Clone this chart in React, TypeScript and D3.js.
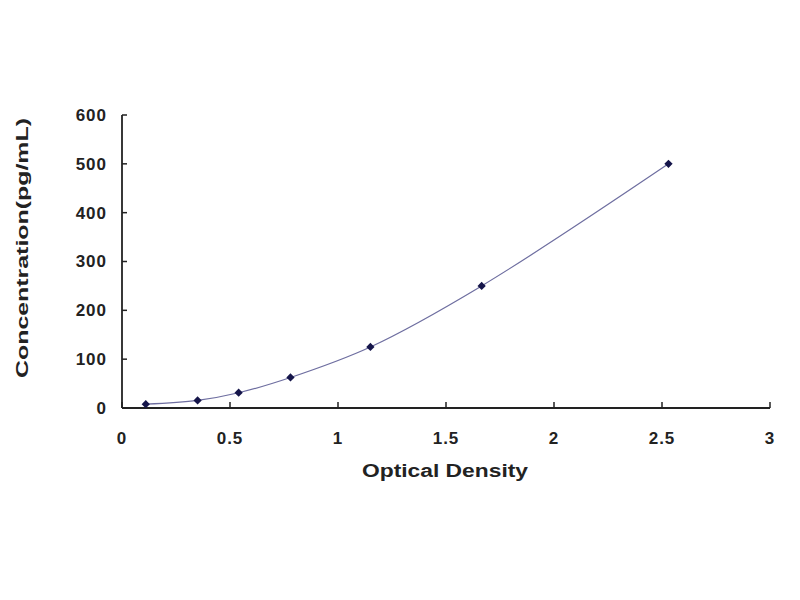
import { useEffect, useRef } from "react";
import * as d3 from "d3";

// standard curve points
const opticalDensity = [0.11, 0.35, 0.54, 0.78, 1.15, 1.665, 2.53];
const concentration = [7.8, 15.6, 31.25, 62.5, 125, 250, 500];
const xTicks = [0, 0.5, 1, 1.5, 2, 2.5, 3];
const yTicks = [0, 100, 200, 300, 400, 500, 600];

export default function App() {
    const svgRef = useRef<SVGSVGElement | null>(null);

    useEffect(() => {
        if (!svgRef.current) return;
        const svg = d3.select<SVGSVGElement, unknown>(svgRef.current);
        svg.selectAll("*").remove();

        const margin = { top: 115, left: 122, right: 30 };
        const plotRight = 770;
        const plotBottom = 408;

        const x = d3.scaleLinear().domain([0, 3]).range([margin.left, plotRight]);
        const y = d3.scaleLinear().domain([0, 600]).range([plotBottom, margin.top]);

        const font = "Arial, 'Liberation Sans', sans-serif";
        const ink = "#222";

        // X axis, ticks pointing inward
        const xAxis = svg.append("g").attr("transform", `translate(0,${plotBottom})`);
        xAxis.append("line")
            .attr("x1", x(0)).attr("x2", x(3))
            .attr("stroke", ink).attr("stroke-width", 1.8);
        xAxis.selectAll("line.tick")
            .data(xTicks)
            .join("line")
            .attr("class", "tick")
            .attr("x1", (d) => x(d)).attr("x2", (d) => x(d))
            .attr("y1", 0).attr("y2", -6)
            .attr("stroke", ink).attr("stroke-width", 1.5);
        xAxis.selectAll("text")
            .data(xTicks)
            .join("text")
            .attr("x", (d) => x(d))
            .attr("y", 36)
            .attr("text-anchor", "middle")
            .attr("font-family", font)
            .attr("font-weight", "bold")
            .attr("font-size", 17)
            .attr("letter-spacing", 1)
            .attr("fill", ink)
            .text((d) => String(d));

        // Y axis
        const yAxis = svg.append("g").attr("transform", `translate(${margin.left},0)`);
        yAxis.append("line")
            .attr("y1", y(0)).attr("y2", y(600))
            .attr("stroke", ink).attr("stroke-width", 1.8);
        yAxis.selectAll("line.tick")
            .data(yTicks)
            .join("line")
            .attr("class", "tick")
            .attr("y1", (d) => y(d)).attr("y2", (d) => y(d))
            .attr("x1", 0).attr("x2", 5)
            .attr("stroke", ink).attr("stroke-width", 1.5);
        yAxis.selectAll("text")
            .data(yTicks)
            .join("text")
            .attr("x", -15)
            .attr("y", (d) => y(d))
            .attr("dy", "0.35em")
            .attr("text-anchor", "end")
            .attr("font-family", font)
            .attr("font-weight", "bold")
            .attr("font-size", 17)
            .attr("letter-spacing", 1)
            .attr("fill", ink)
            .text((d) => String(d));

        // axis titles
        svg.append("text")
            .attr("x", 445)
            .attr("y", 477)
            .attr("text-anchor", "middle")
            .attr("font-family", font)
            .attr("font-weight", "bold")
            .attr("font-size", 18)
            .attr("textLength", 166)
            .attr("lengthAdjust", "spacingAndGlyphs")
            .attr("fill", ink)
            .text("Optical Density");

        svg.append("text")
            .attr("transform", "translate(28,248) rotate(-90)")
            .attr("text-anchor", "middle")
            .attr("font-family", font)
            .attr("font-weight", "bold")
            .attr("font-size", 17)
            .attr("textLength", 260)
            .attr("lengthAdjust", "spacingAndGlyphs")
            .attr("fill", ink)
            .text("Concentration(pg/mL)");

        // fitted curve through the standards
        const pts = opticalDensity.map((od, i) => [od, concentration[i]] as [number, number]);
        const line = d3.line<[number, number]>()
            .x((d) => x(d[0]))
            .y((d) => y(d[1]))
            .curve(d3.curveCatmullRom.alpha(0.5));
        svg.append("path")
            .datum(pts)
            .attr("fill", "none")
            .attr("stroke", "#6e6ea0")
            .attr("stroke-width", 1.2)
            .attr("d", line);

        // diamond markers (square turned 45 degrees)
        const marker = d3.symbol().type(d3.symbolSquare).size(34);
        svg.selectAll("path.pt")
            .data(pts)
            .join("path")
            .attr("class", "pt")
            .attr("transform", (d) => `translate(${x(d[0])},${y(d[1])}) rotate(45)`)
            .attr("d", marker)
            .attr("fill", "#15154a");
    }, []);

    return (
        <svg
            ref={svgRef}
            width={800}
            height={600}
            style={{ position: "absolute", left: 0, top: 0, background: "#fff" }}
        />
    );
}
